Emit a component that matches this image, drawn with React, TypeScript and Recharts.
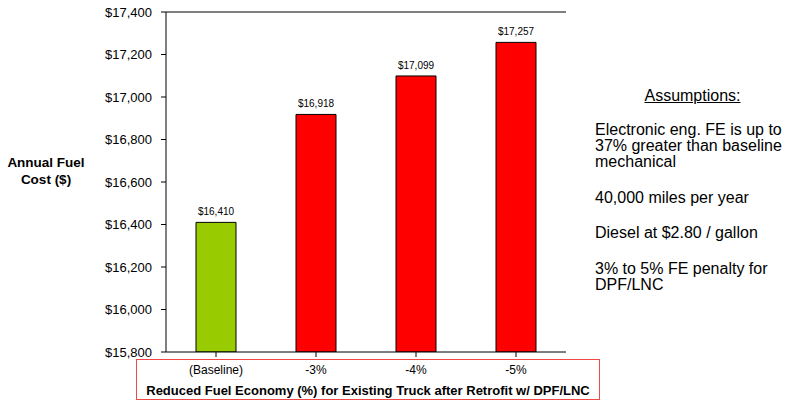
import { BarChart, Bar, XAxis, YAxis, Cell, LabelList, ReferenceLine } from 'recharts';

const categories = ['(Baseline)', '-3%', '-4%', '-5%'];
const fuelCost = [16410, 16918, 17099, 17257];
const barColors = ['#99cc00', '#ff0000', '#ff0000', '#ff0000'];
const yTicks = [15800, 16000, 16200, 16400, 16600, 16800, 17000, 17200, 17400];
const assumptions = [
  ['Electronic eng. FE is up to', '37% greater than baseline', 'mechanical'],
  ['40,000 miles per year'],
  ['Diesel at $2.80 / gallon'],
  ['3% to 5% FE penalty for', 'DPF/LNC'],
];

const data = categories.map((name, i) => ({ name, cost: fuelCost[i] }));

const font = '"Liberation Sans", Arial, sans-serif';
const money = (v: number) => '$' + v.toLocaleString('en-US');

export default function App() {
  return (
    <div style={{ position: 'absolute', left: 0, top: 0, width: 785, height: 401, background: '#fff', fontFamily: font }}>
      <BarChart
        width={785}
        height={401}
        data={data}
        margin={{ top: 12, right: 219, bottom: 0, left: 0 }}
        barSize={40}
      >
        <XAxis
          dataKey="name"
          height={49}
          axisLine={{ stroke: '#000' }}
          tickLine={{ stroke: '#000' }}
          tickSize={5}
          tickMargin={8}
          tick={{ fill: '#000', fontSize: 12, fontFamily: font }}
          interval={0}
        />
        <YAxis
          width={166}
          domain={[15800, 17400]}
          ticks={yTicks}
          allowDataOverflow
          axisLine={{ stroke: '#000' }}
          tickLine={{ stroke: '#000' }}
          tickSize={5}
          tickMargin={9}
          tickFormatter={money}
          tick={{ fill: '#000', fontSize: 13, fontFamily: font }}
        />
        <YAxis
          yAxisId="frame"
          orientation="right"
          width={0}
          domain={[15800, 17400]}
          tick={false}
          tickLine={false}
          axisLine={{ stroke: '#666' }}
        />
        <ReferenceLine y={17400} stroke="#000" />
        <Bar dataKey="cost" stroke="#000" strokeWidth={1} isAnimationActive={false}>
          {data.map((d, i) => (
            <Cell key={d.name} fill={barColors[i]} />
          ))}
          <LabelList
            dataKey="cost"
            position="top"
            offset={7}
            formatter={(v: unknown) => money(Number(v))}
            style={{ fill: '#000', fontSize: 10, fontFamily: font }}
          />
        </Bar>
      </BarChart>

      <div
        style={{
          position: 'absolute',
          left: 136,
          top: 359,
          width: 464,
          height: 41,
          border: '1px solid #f04848',
          boxSizing: 'border-box',
        }}
      />
      <div
        style={{
          position: 'absolute',
          left: 136,
          top: 383,
          width: 464,
          textAlign: 'center',
          fontSize: 13,
          fontWeight: 'bold',
          lineHeight: '16px',
        }}
      >
        Reduced Fuel Economy (%) for Existing Truck after Retrofit w/ DPF/LNC
      </div>

      <div
        style={{
          position: 'absolute',
          left: 0,
          top: 154,
          width: 92,
          textAlign: 'center',
          fontSize: 13.5,
          fontWeight: 'bold',
          lineHeight: '17px',
        }}
      >
        Annual Fuel
        <br />
        Cost ($)
      </div>

      <div style={{ position: 'absolute', left: 595, top: 88, width: 195, fontSize: 16, lineHeight: '16px' }}>
        <div style={{ textAlign: 'center', paddingLeft: 0, textDecoration: 'underline', marginBottom: 18 }}>Assumptions:</div>
        {assumptions.map((para, i) => (
          <div key={i} style={{ marginBottom: 19.5 }}>
            {para.map((line) => (
              <div key={line}>{line}</div>
            ))}
          </div>
        ))}
      </div>
    </div>
  );
}
